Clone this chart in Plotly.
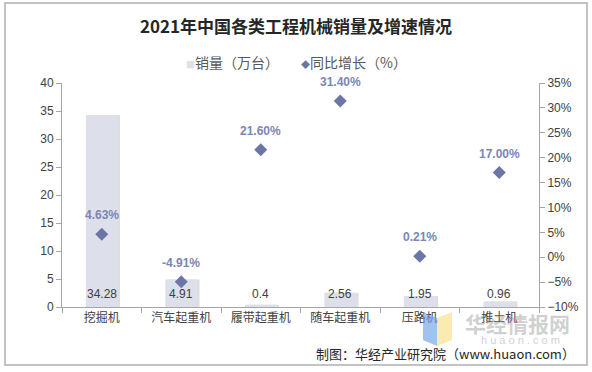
import plotly.graph_objects as go

categories = ["挖掘机", "汽车起重机", "履带起重机", "随车起重机", "压路机", "推土机"]
sales = [34.28, 4.91, 0.4, 2.56, 1.95, 0.96]
growth = [4.63, -4.91, 21.60, 31.40, 0.21, 17.00]
sales_labels = ["34.28", "4.91", "0.4", "2.56", "1.95", "0.96"]
growth_labels = ["4.63%", "-4.91%", "21.60%", "31.40%", "0.21%", "17.00%"]

W, H = 592, 372
L, R, T, B = 62, 53, 83, 65
pw, ph = W - L - R, H - T - B

def px(x):
    return (x - L) / pw

def py(y):
    return (H - B - y) / ph

FONT = "Arial, 'Liberation Sans', 'Noto Sans CJK SC', sans-serif"
CJK = "'Noto Sans CJK SC', sans-serif"
BAR_COLOR = "#dde0ea"
MARK_COLOR = "#6b76a6"

fig = go.Figure()
# bar shadow
fig.add_trace(go.Bar(x=categories, y=sales, width=0.4, offset=-0.17,
                     marker=dict(color="rgba(0,0,0,0.13)", line=dict(width=0)),
                     showlegend=False, hoverinfo="skip"))
fig.add_trace(go.Bar(x=categories, y=sales, width=0.4, offset=-0.2,
                     name="销量（万台）", showlegend=False,
                     marker=dict(color=BAR_COLOR, line=dict(width=0))))
fig.add_trace(go.Scatter(x=categories, y=growth, yaxis="y2", mode="markers",
                         name="同比增长（%）", showlegend=False,
                         marker=dict(symbol="diamond", size=10, color=MARK_COLOR)))

annotations = []
for c, v, t in zip(categories, sales, sales_labels):
    annotations.append(dict(x=c, y=0, xref="x", yref="y", text=t, showarrow=False,
                            yshift=13, font=dict(size=12, color="#404040", family=FONT)))
for c, v, t in zip(categories, growth, growth_labels):
    annotations.append(dict(x=c, y=v, xref="x", yref="y2", text="<b>" + t + "</b>",
                            showarrow=False, yshift=19,
                            font=dict(size=12, color="#7b86b6", family=FONT)))
# legend (manual, compact Excel-style)
annotations.append(dict(x=px(184), y=py(62), xref="paper", yref="paper",
                        xanchor="left", yanchor="middle", showarrow=False,
                        text=f"<span style='color:{BAR_COLOR};font-size:9px'>■</span>销量（万台）",
                        font=dict(size=14, color="#595959", family=CJK)))
annotations.append(dict(x=px(299), y=py(62), xref="paper", yref="paper",
                        xanchor="left", yanchor="middle", showarrow=False,
                        text=f"<span style='color:{MARK_COLOR};font-size:9px'>◆</span>同比增长（%）",
                        font=dict(size=14, color="#595959", family=CJK)))
# watermark
annotations.append(dict(x=px(517), y=py(323), xref="paper", yref="paper",
                        xanchor="center", yanchor="middle",
                        text="<b>华经情报网</b>", showarrow=False,
                        font=dict(size=21, color="rgba(140,140,140,0.42)", family=CJK)))
annotations.append(dict(x=px(520), y=py(340), xref="paper", yref="paper",
                        xanchor="center", yanchor="middle",
                        text="h u a o n . c o m", showarrow=False,
                        font=dict(size=11, color="rgba(160,160,160,0.5)", family=FONT)))
# source
annotations.append(dict(x=px(577), y=py(353), xref="paper", yref="paper",
                        xanchor="right", yanchor="middle",
                        text="制图：华经产业研究院（www.huaon.com）", showarrow=False,
                        font=dict(size=13, color="#262626", family=CJK)))

shapes = [
    dict(type="rect", xref="paper", yref="paper", x0=px(5), x1=px(587), y0=py(3), y1=py(365),
         line=dict(color="#b0b0b0", width=1.5), fillcolor="rgba(0,0,0,0)", layer="below"),
    dict(type="path", xref="paper", yref="paper",
         path=f"M {px(423)} {py(312)} L {px(437)} {py(318)} L {px(437)} {py(346)} L {px(423)} {py(340)} Z",
         line=dict(width=0), fillcolor="rgba(110,160,230,0.65)"),
    dict(type="path", xref="paper", yref="paper",
         path=f"M {px(437)} {py(318)} L {px(452)} {py(312)} L {px(452)} {py(340)} L {px(437)} {py(346)} Z",
         line=dict(width=0), fillcolor="rgba(250,225,130,0.65)"),
]

fig.update_layout(
    width=W, height=H,
    margin=dict(l=L, r=R, t=T, b=B),
    paper_bgcolor="white", plot_bgcolor="white",
    barmode="overlay", bargap=0.6, showlegend=False,
    font=dict(family=FONT, size=12, color="#404040"),
    title=dict(text="<b>2021年中国各类工程机械销量及增速情况</b>",
               x=0.5, xanchor="center", y=1 - 27 / H, yanchor="middle",
               font=dict(size=17, color="#262626", family=CJK)),
    xaxis=dict(type="category", showline=True, linecolor="#a6a6a6", linewidth=1,
               ticks="outside", ticklen=5, tickcolor="#a6a6a6", tickson="boundaries",
               showgrid=False, tickfont=dict(size=12, color="#404040", family=CJK)),
    yaxis=dict(range=[0, 40], dtick=5, showline=True, linecolor="#a6a6a6", linewidth=1,
               ticks="outside", ticklen=5, tickcolor="#a6a6a6", showgrid=False,
               zeroline=False, tickfont=dict(size=12, color="#404040")),
    yaxis2=dict(range=[-10, 35], dtick=5, overlaying="y", side="right", ticksuffix="%",
                showline=True, linecolor="#a6a6a6", linewidth=1,
                ticks="outside", ticklen=5, tickcolor="#a6a6a6", showgrid=False,
                zeroline=False, tickfont=dict(size=12, color="#404040")),
    annotations=annotations,
    shapes=shapes,
)

fig.write_html("out.html", config={"displayModeBar": False},
               post_script="document.body.style.margin='0';")
